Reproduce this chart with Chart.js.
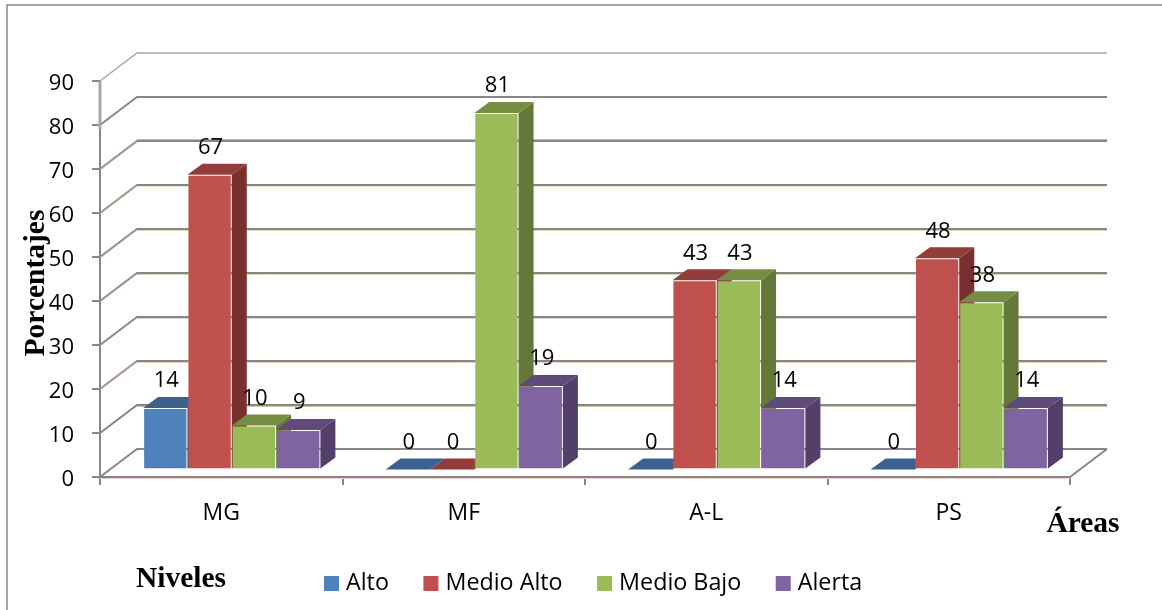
<!DOCTYPE html>
<html lang="es">
<head>
    <meta charset="UTF-8">
    <title>Niveles por áreas</title>
    <script src="https://cdn.jsdelivr.net/npm/chart.js"></script>
    <style>
        html, body { margin: 0; padding: 0; background: #fff; }
        canvas { display: block; }
    </style>
</head>
<body>
    <canvas id="nivelesChart" width="1162" height="610"></canvas>

    <script>
        const areas = ['MG', 'MF', 'A-L', 'PS'];
        const alto = [14, 0, 0, 0];
        const medioAlto = [67, 0, 43, 48];
        const medioBajo = [10, 81, 43, 38];
        const alerta = [9, 19, 14, 14];
        const seriesNames = ['Alto', 'Medio Alto', 'Medio Bajo', 'Alerta'];
        const yTicks = [0, 10, 20, 30, 40, 50, 60, 70, 80, 90];

        const frontColors = ['#4f81bd', '#c0504d', '#9bbb59', '#8064a2'];
        const topColors = ['#3b618f', '#933c39', '#758e43', '#604a7b'];
        const sideColors = ['#2f4d71', '#792f2d', '#64783a', '#533f69'];

        // fringe colours of the wall lines, index = tick value / 10
        const diagFringe = [null, null, '#c9a08a', '#9a8e78', '#bd8a80', '#bd8a80', '#a0ad86', '#9aa884', null, null];
        const backFringe = [null, '#c5cfb0', '#ecd0ca', '#e2d6d0', '#d2dbb8', '#d6ddbc', '#e8ecd0', '#b8c498', null, null];

        const WALL_DX = 37, WALL_DY = 28;    // depth of the walls
        const BAR_DX = 15, BAR_DY = 11;      // depth of a bar
        const SHIFT_X = 10.5, SHIFT_Y = 7.5; // bars stand a bit inside the floor
        const LINE = '#868686';

        function polygon(ctx, pts, fill) {
            ctx.beginPath();
            ctx.moveTo(pts[0][0], pts[0][1]);
            pts.slice(1).forEach(p => ctx.lineTo(p[0], p[1]));
            ctx.closePath();
            ctx.fillStyle = fill;
            ctx.fill();
        }

        const wallsAndBars = {
            id: 'wallsAndBars',
            beforeDatasetsDraw(chart) {
                const ctx = chart.ctx;
                const { left, right, bottom } = chart.chartArea;
                const y = chart.scales.y;

                // frame
                ctx.save();
                ctx.strokeStyle = LINE;
                ctx.lineWidth = 1.5;
                ctx.beginPath();
                ctx.moveTo(7, 610);
                ctx.lineTo(7, 5);
                ctx.lineTo(1162, 5);
                ctx.stroke();

                // side wall and back wall
                yTicks.forEach((v, i) => {
                    const py = y.getPixelForValue(v);
                    const off = v === 70 ? -1.5 : 1.5;
                    ctx.lineWidth = 1;
                    if (backFringe[i]) {
                        ctx.strokeStyle = backFringe[i];
                        ctx.beginPath();
                        ctx.moveTo(left + WALL_DX, py - WALL_DY + off);
                        ctx.lineTo(right + WALL_DX, py - WALL_DY + off);
                        ctx.stroke();
                    }
                    ctx.strokeStyle = v === 90 ? '#a6a6a6' : LINE;
                    ctx.lineWidth = v === 90 ? 1.5 : 2;
                    ctx.beginPath();
                    ctx.moveTo(left, py);
                    ctx.lineTo(left + WALL_DX, py - WALL_DY);
                    ctx.lineTo(right + WALL_DX, py - WALL_DY);
                    ctx.stroke();
                    if (diagFringe[i]) {
                        ctx.strokeStyle = diagFringe[i];
                        ctx.lineWidth = 1;
                        ctx.beginPath();
                        ctx.moveTo(left, py);
                        ctx.lineTo(left + WALL_DX, py - WALL_DY);
                        ctx.stroke();
                    }
                });

                // right edge of the floor, thick top of the axis, fringe under the floor
                ctx.strokeStyle = LINE;
                ctx.lineWidth = 2;
                ctx.beginPath();
                ctx.moveTo(right, bottom);
                ctx.lineTo(right + WALL_DX, bottom - WALL_DY);
                ctx.stroke();
                ctx.strokeStyle = '#a6a6a6';
                ctx.lineWidth = 3;
                ctx.beginPath();
                ctx.moveTo(left, y.getPixelForValue(90));
                ctx.lineTo(left, y.getPixelForValue(79));
                ctx.stroke();
                ctx.strokeStyle = '#ecd4cc';
                ctx.lineWidth = 1;
                ctx.beginPath();
                ctx.moveTo(left, bottom + 1.5);
                ctx.lineTo(right, bottom + 1.5);
                ctx.stroke();

                // top and side faces, left to right, fronts come after
                ctx.translate(SHIFT_X, -SHIFT_Y);
                for (let c = 0; c < areas.length; c++) {
                    for (let d = 0; d < chart.data.datasets.length; d++) {
                        const bar = chart.getDatasetMeta(d).data[c];
                        const x0 = bar.x - bar.width / 2, x1 = bar.x + bar.width / 2;
                        polygon(ctx, [[x1, bar.y], [x1 + BAR_DX, bar.y - BAR_DY], [x1 + BAR_DX, bar.base - BAR_DY], [x1, bar.base]], sideColors[d]);
                        polygon(ctx, [[x0, bar.y], [x0 + BAR_DX, bar.y - BAR_DY], [x1 + BAR_DX, bar.y - BAR_DY], [x1, bar.y]], topColors[d]);
                    }
                }
                // native bars are drawn inside this translate, undone below
            },
            afterDatasetsDraw(chart) {
                const ctx = chart.ctx;
                ctx.restore();

                // value labels
                ctx.save();
                ctx.fillStyle = '#000';
                ctx.font = '22px "Open Sans"';
                ctx.textAlign = 'center';
                ctx.textBaseline = 'middle';
                chart.data.datasets.forEach((ds, d) => {
                    chart.getDatasetMeta(d).data.forEach((bar, c) => {
                        ctx.fillText(ds.data[c], bar.x + SHIFT_X + 1, bar.y - SHIFT_Y - 27);
                    });
                });

                // axis titles
                ctx.font = 'bold 29.5px "Liberation Serif"';
                ctx.fillText('Niveles', 181, 579);
                ctx.fillText('Áreas', 1083, 524);
                ctx.translate(36, 283);
                ctx.rotate(-Math.PI / 2);
                ctx.fillText('Porcentajes', 0, 0);
                ctx.restore();

                // legend
                ctx.save();
                ctx.font = '23.3px "Open Sans"';
                ctx.textBaseline = 'middle';
                let x = 324;
                seriesNames.forEach((name, i) => {
                    ctx.fillStyle = frontColors[i];
                    ctx.fillRect(x, 576, 15, 15);
                    ctx.fillStyle = '#000';
                    ctx.fillText(name, x + 22, 583);
                    x += 22 + ctx.measureText(name).width + 34.5;
                });
                ctx.restore();
            }
        };

        const datasets = [alto, medioAlto, medioBajo, alerta].map((values, i) => ({
            label: seriesNames[i],
            data: values,
            backgroundColor: frontColors[i],
            borderColor: 'rgba(255,255,255,0.15)',
            borderWidth: 1,
            categoryPercentage: 0.731,
            barPercentage: 1,
            clip: false
        }));

        new Chart(document.getElementById('nivelesChart'), {
            type: 'bar',
            data: { labels: areas, datasets: datasets },
            plugins: [wallsAndBars],
            options: {
                responsive: false,
                animation: false,
                layout: { padding: { left: 0, right: 92, top: 81, bottom: 0 } },
                plugins: { legend: { display: false }, tooltip: { enabled: false } },
                scales: {
                    x: {
                        afterFit(scale) { scale.height = 133; },
                        border: { color: LINE, width: 2 },
                        grid: { drawOnChartArea: false, color: LINE, lineWidth: 2, tickLength: 8 },
                        ticks: { color: '#000', font: { family: '"Open Sans"', size: 23 }, padding: 15 }
                    },
                    y: {
                        min: 0,
                        max: 90,
                        afterFit(scale) { scale.width = 100; },
                        border: { color: LINE, width: 2 },
                        grid: { drawOnChartArea: false, color: LINE, lineWidth: 2, tickLength: 8 },
                        ticks: { color: '#000', stepSize: 10, font: { family: '"Open Sans"', size: 22 }, padding: 18, labelOffset: 3 }
                    }
                }
            }
        });
    </script>
</body>
</html>
